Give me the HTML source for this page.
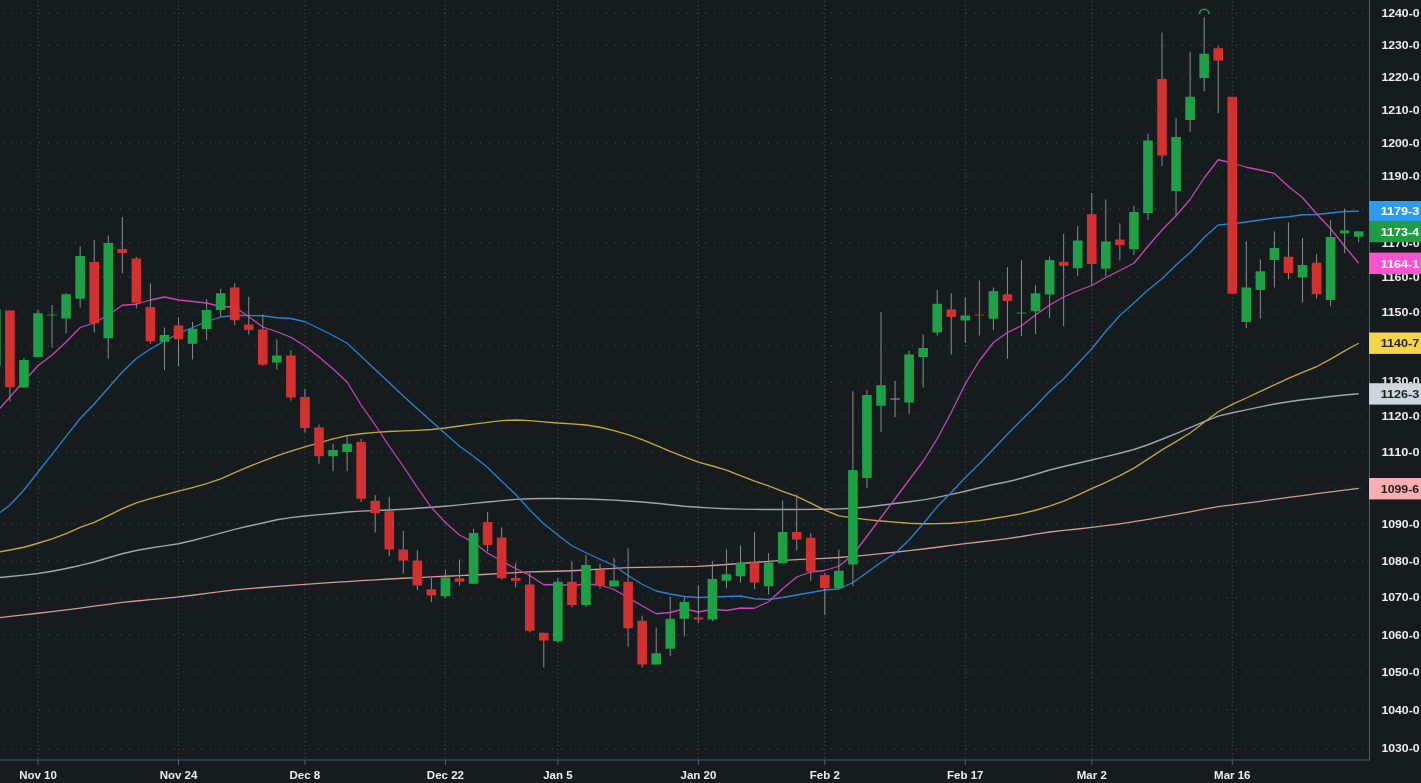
<!DOCTYPE html>
<html><head><meta charset="utf-8"><title>Chart</title>
<style>html,body{margin:0;padding:0;background:#161b1e;overflow:hidden}svg{display:block;will-change:transform}</style></head>
<body>
<svg width="1421" height="783" viewBox="0 0 1421 783">
<rect width="1421" height="783" fill="#161b1e"/>
<g stroke="#465a64" stroke-width="1" fill="none">
<line x1="3" y1="749" x2="1369" y2="749" stroke-dasharray="1 8"/>
<line x1="3" y1="710" x2="1369" y2="710" stroke-dasharray="1 8"/>
<line x1="3" y1="672" x2="1369" y2="672" stroke-dasharray="1 8"/>
<line x1="3" y1="635" x2="1369" y2="635" stroke-dasharray="1 8"/>
<line x1="3" y1="598" x2="1369" y2="598" stroke-dasharray="1 8"/>
<line x1="3" y1="561" x2="1369" y2="561" stroke-dasharray="1 8"/>
<line x1="3" y1="524" x2="1369" y2="524" stroke-dasharray="1 8"/>
<line x1="3" y1="488" x2="1369" y2="488" stroke-dasharray="1 8"/>
<line x1="3" y1="452" x2="1369" y2="452" stroke-dasharray="1 8"/>
<line x1="3" y1="416" x2="1369" y2="416" stroke-dasharray="1 8"/>
<line x1="3" y1="382" x2="1369" y2="382" stroke-dasharray="1 8"/>
<line x1="3" y1="346" x2="1369" y2="346" stroke-dasharray="1 8"/>
<line x1="3" y1="312" x2="1369" y2="312" stroke-dasharray="1 8"/>
<line x1="3" y1="277" x2="1369" y2="277" stroke-dasharray="1 8"/>
<line x1="3" y1="243" x2="1369" y2="243" stroke-dasharray="1 8"/>
<line x1="3" y1="209" x2="1369" y2="209" stroke-dasharray="1 8"/>
<line x1="3" y1="176" x2="1369" y2="176" stroke-dasharray="1 8"/>
<line x1="3" y1="143" x2="1369" y2="143" stroke-dasharray="1 8"/>
<line x1="3" y1="110" x2="1369" y2="110" stroke-dasharray="1 8"/>
<line x1="3" y1="78" x2="1369" y2="78" stroke-dasharray="1 8"/>
<line x1="3" y1="45" x2="1369" y2="45" stroke-dasharray="1 8"/>
<line x1="3" y1="13" x2="1369" y2="13" stroke-dasharray="1 8"/>
<line x1="38.00" y1="1" x2="38.00" y2="760" stroke-dasharray="1 3"/>
<line x1="178.50" y1="1" x2="178.50" y2="760" stroke-dasharray="1 3"/>
<line x1="304.95" y1="1" x2="304.95" y2="760" stroke-dasharray="1 3"/>
<line x1="445.45" y1="1" x2="445.45" y2="760" stroke-dasharray="1 3"/>
<line x1="557.85" y1="1" x2="557.85" y2="760" stroke-dasharray="1 3"/>
<line x1="698.35" y1="1" x2="698.35" y2="760" stroke-dasharray="1 3"/>
<line x1="824.80" y1="1" x2="824.80" y2="760" stroke-dasharray="1 3"/>
<line x1="965.30" y1="1" x2="965.30" y2="760" stroke-dasharray="1 3"/>
<line x1="1091.75" y1="1" x2="1091.75" y2="760" stroke-dasharray="1 3"/>
<line x1="1232.25" y1="1" x2="1232.25" y2="760" stroke-dasharray="1 3"/>
</g>
<rect x="0" y="759.5" width="1369.5" height="1" fill="#4a6372"/>
<rect x="1369" y="0" width="1" height="760.5" fill="#4a6372"/>
<rect x="37.50" y="760" width="1" height="5" fill="#4a6372"/>
<rect x="178.00" y="760" width="1" height="5" fill="#4a6372"/>
<rect x="304.45" y="760" width="1" height="5" fill="#4a6372"/>
<rect x="444.95" y="760" width="1" height="5" fill="#4a6372"/>
<rect x="557.35" y="760" width="1" height="5" fill="#4a6372"/>
<rect x="697.85" y="760" width="1" height="5" fill="#4a6372"/>
<rect x="824.30" y="760" width="1" height="5" fill="#4a6372"/>
<rect x="964.80" y="760" width="1" height="5" fill="#4a6372"/>
<rect x="1091.25" y="760" width="1" height="5" fill="#4a6372"/>
<rect x="1231.75" y="760" width="1" height="5" fill="#4a6372"/>
<path d="M-4.15,618.02 L9.90,616.36 L23.95,614.83 L38.00,613.25 L52.05,611.56 L66.10,609.82 L80.15,608.04 L94.20,606.22 L108.25,604.29 L122.30,602.47 L136.35,600.99 L150.40,599.69 L164.45,598.40 L178.50,596.97 L192.55,595.27 L206.60,593.40 L220.65,591.56 L234.70,589.95 L248.75,588.64 L262.80,587.48 L276.85,586.42 L290.90,585.44 L304.95,584.47 L319.00,583.46 L333.05,582.46 L347.10,581.54 L361.15,580.66 L375.20,579.81 L389.25,579.01 L403.30,578.25 L417.35,577.54 L431.40,576.88 L445.45,576.24 L459.50,575.62 L473.55,574.99 L487.60,574.25 L501.65,573.44 L515.70,572.64 L529.75,571.96 L543.80,571.49 L557.85,571.24 L571.90,570.73 L585.95,569.99 L600.00,569.16 L614.05,568.38 L628.10,567.69 L642.15,567.34 L656.20,567.10 L670.25,566.93 L684.30,566.71 L698.35,566.29 L712.40,565.49 L726.45,564.49 L740.50,563.49 L754.55,562.46 L768.60,561.38 L782.65,560.39 L796.70,559.62 L810.75,558.97 L824.80,558.30 L838.85,557.48 L852.90,556.40 L866.95,555.11 L881.00,553.70 L895.05,552.23 L909.10,550.67 L923.15,548.99 L937.20,547.24 L951.25,545.46 L965.30,543.71 L979.35,542.02 L993.40,540.32 L1007.45,538.53 L1021.50,536.51 L1035.55,534.13 L1049.60,531.99 L1063.65,530.39 L1077.70,528.99 L1091.75,527.47 L1105.80,525.71 L1119.85,523.79 L1133.90,521.73 L1147.95,519.44 L1162.00,516.97 L1176.05,514.45 L1190.10,511.77 L1204.15,509.05 L1218.20,506.68 L1232.25,504.88 L1246.30,503.18 L1260.35,501.30 L1274.40,499.36 L1288.45,497.44 L1302.50,495.54 L1316.55,493.68 L1330.60,491.88 L1344.65,490.11 L1358.70,488.40" fill="none" stroke="#cf9a9c" stroke-width="1.3" stroke-linejoin="round"/>
<path d="M-4.15,578.02 L9.90,576.45 L23.95,575.10 L38.00,573.50 L52.05,571.23 L66.10,568.48 L80.15,565.42 L94.20,561.95 L108.25,557.73 L122.30,553.68 L136.35,550.56 L150.40,547.93 L164.45,545.87 L178.50,543.70 L192.55,540.54 L206.60,536.91 L220.65,533.12 L234.70,529.39 L248.75,526.07 L262.80,522.93 L276.85,519.82 L290.90,517.62 L304.95,515.95 L319.00,514.65 L333.05,513.45 L347.10,512.07 L361.15,511.15 L375.20,510.59 L389.25,510.00 L403.30,509.22 L417.35,508.33 L431.40,507.33 L445.45,506.23 L459.50,504.90 L473.55,503.38 L487.60,501.99 L501.65,500.65 L515.70,499.40 L529.75,498.75 L543.80,498.57 L557.85,498.50 L571.90,498.66 L585.95,499.04 L600.00,499.51 L614.05,500.15 L628.10,501.03 L642.15,502.03 L656.20,503.28 L670.25,504.76 L684.30,506.17 L698.35,507.26 L712.40,508.15 L726.45,508.76 L740.50,509.12 L754.55,509.40 L768.60,509.50 L782.65,509.48 L796.70,509.43 L810.75,509.36 L824.80,509.25 L838.85,508.89 L852.90,508.23 L866.95,507.00 L881.00,505.22 L895.05,503.45 L909.10,501.81 L923.15,499.90 L937.20,497.37 L951.25,494.36 L965.30,491.18 L979.35,487.72 L993.40,484.49 L1007.45,481.68 L1021.50,478.29 L1035.55,474.19 L1049.60,469.97 L1063.65,466.45 L1077.70,463.22 L1091.75,459.94 L1105.80,456.64 L1119.85,453.29 L1133.90,449.46 L1147.95,444.73 L1162.00,439.30 L1176.05,433.63 L1190.10,427.62 L1204.15,421.59 L1218.20,416.12 L1232.25,412.73 L1246.30,409.88 L1260.35,406.91 L1274.40,404.08 L1288.45,401.68 L1302.50,399.84 L1316.55,398.18 L1330.60,396.47 L1344.65,394.94 L1358.70,393.75" fill="none" stroke="#a0a5a9" stroke-width="1.45" stroke-linejoin="round"/>
<path d="M-4.15,552.53 L9.90,549.98 L23.95,547.24 L38.00,543.25 L52.05,538.77 L66.10,533.71 L80.15,527.44 L94.20,522.42 L108.25,515.62 L122.30,508.62 L136.35,502.88 L150.40,498.64 L164.45,494.84 L178.50,491.18 L192.55,487.54 L206.60,483.57 L220.65,478.79 L234.70,472.63 L248.75,466.74 L262.80,461.14 L276.85,455.92 L290.90,451.12 L304.95,446.83 L319.00,442.86 L333.05,438.91 L347.10,435.64 L361.15,433.71 L375.20,432.35 L389.25,431.46 L403.30,430.86 L417.35,430.30 L431.40,429.49 L445.45,427.98 L459.50,425.97 L473.55,424.13 L487.60,422.32 L501.65,420.67 L515.70,420.00 L529.75,420.60 L543.80,421.83 L557.85,423.02 L571.90,423.88 L585.95,424.97 L600.00,427.26 L614.05,430.57 L628.10,434.71 L642.15,439.65 L656.20,445.39 L670.25,451.35 L684.30,456.94 L698.35,462.03 L712.40,466.01 L726.45,470.07 L740.50,475.65 L754.55,481.16 L768.60,485.88 L782.65,491.31 L796.70,496.33 L810.75,503.13 L824.80,510.13 L838.85,515.82 L852.90,517.95 L866.95,519.55 L881.00,521.02 L895.05,522.19 L909.10,523.26 L923.15,523.75 L937.20,523.58 L951.25,523.21 L965.30,522.17 L979.35,520.58 L993.40,518.46 L1007.45,516.14 L1021.50,513.69 L1035.55,510.23 L1049.60,506.22 L1063.65,501.03 L1077.70,495.12 L1091.75,488.64 L1105.80,482.31 L1119.85,475.70 L1133.90,468.16 L1147.95,459.14 L1162.00,449.84 L1176.05,441.66 L1190.10,433.01 L1204.15,422.20 L1218.20,411.73 L1232.25,404.45 L1246.30,397.99 L1260.35,391.32 L1274.40,384.82 L1288.45,378.40 L1302.50,372.29 L1316.55,366.75 L1330.60,359.16 L1344.65,350.88 L1358.70,343.25" fill="none" stroke="#c4a73a" stroke-width="1.35" stroke-linejoin="round"/>
<path d="M-4.15,515.60 L9.90,505.00 L23.95,490.00 L38.00,472.00 L52.05,454.30 L66.10,436.30 L80.15,418.50 L94.20,404.00 L108.25,388.00 L122.30,372.00 L136.35,358.50 L150.40,349.00 L164.45,341.00 L178.50,333.50 L192.55,327.50 L206.60,321.75 L220.65,317.00 L234.70,315.50 L248.75,315.50 L262.80,315.75 L276.85,317.75 L290.90,318.50 L304.95,321.75 L319.00,328.50 L333.05,335.50 L347.10,343.25 L361.15,356.30 L375.20,369.50 L389.25,382.80 L403.30,396.00 L417.35,408.80 L431.40,421.25 L445.45,433.75 L459.50,446.25 L473.55,456.25 L487.60,467.50 L501.65,481.25 L515.70,494.50 L529.75,510.00 L543.80,523.75 L557.85,535.00 L571.90,545.75 L585.95,552.75 L600.00,559.25 L614.05,565.50 L628.10,575.50 L642.15,584.25 L656.20,591.00 L670.25,594.00 L684.30,596.50 L698.35,597.50 L712.40,597.00 L726.45,596.50 L740.50,596.00 L754.55,598.75 L768.60,599.50 L782.65,597.50 L796.70,595.00 L810.75,592.50 L824.80,590.00 L838.85,589.00 L852.90,582.50 L866.95,572.50 L881.00,562.50 L895.05,553.25 L909.10,540.00 L923.15,523.75 L937.20,506.75 L951.25,492.50 L965.30,477.50 L979.35,463.75 L993.40,449.00 L1007.45,434.25 L1021.50,420.00 L1035.55,406.25 L1049.60,391.25 L1063.65,378.75 L1077.70,363.75 L1091.75,348.75 L1105.80,331.25 L1119.85,315.50 L1133.90,303.00 L1147.95,290.00 L1162.00,278.75 L1176.05,265.00 L1190.10,252.50 L1204.15,237.50 L1218.20,225.00 L1232.25,223.75 L1246.30,222.00 L1260.35,220.00 L1274.40,218.00 L1288.45,216.75 L1302.50,214.75 L1316.55,214.50 L1330.60,213.00 L1344.65,211.50 L1358.70,211.25" fill="none" stroke="#2c80d2" stroke-width="1.3" stroke-linejoin="round"/>
<path d="M-4.15,413.00 L9.90,397.00 L23.95,381.00 L38.00,365.75 L52.05,355.00 L66.10,342.00 L80.15,327.50 L94.20,323.00 L108.25,315.00 L122.30,305.25 L136.35,304.25 L150.40,300.00 L164.45,297.00 L178.50,300.00 L192.55,301.50 L206.60,303.00 L220.65,306.50 L234.70,307.00 L248.75,316.75 L262.80,327.00 L276.85,331.75 L290.90,337.25 L304.95,346.00 L319.00,357.00 L333.05,369.00 L347.10,382.00 L361.15,405.00 L375.20,425.00 L389.25,446.25 L403.30,466.25 L417.35,487.50 L431.40,507.50 L445.45,522.50 L459.50,535.00 L473.55,542.50 L487.60,553.00 L501.65,561.25 L515.70,568.50 L529.75,575.50 L543.80,584.75 L557.85,584.50 L571.90,585.50 L585.95,584.00 L600.00,585.00 L614.05,589.50 L628.10,597.50 L642.15,605.75 L656.20,613.75 L670.25,612.50 L684.30,608.75 L698.35,612.00 L712.40,609.25 L726.45,610.50 L740.50,608.00 L754.55,608.25 L768.60,601.75 L782.65,588.75 L796.70,577.00 L810.75,572.00 L824.80,570.50 L838.85,566.25 L852.90,555.00 L866.95,536.25 L881.00,517.50 L895.05,498.75 L909.10,480.00 L923.15,461.25 L937.20,438.75 L951.25,412.50 L965.30,383.75 L979.35,360.75 L993.40,342.50 L1007.45,332.50 L1021.50,325.75 L1035.55,315.00 L1049.60,305.00 L1063.65,297.00 L1077.70,290.75 L1091.75,285.50 L1105.80,277.50 L1119.85,270.50 L1133.90,263.25 L1147.95,246.25 L1162.00,230.00 L1176.05,215.75 L1190.10,199.50 L1204.15,178.00 L1218.20,159.75 L1232.25,163.00 L1246.30,167.25 L1260.35,170.00 L1274.40,173.50 L1288.45,186.50 L1302.50,197.50 L1316.55,213.75 L1330.60,228.75 L1344.65,246.25 L1358.70,263.25" fill="none" stroke="#c945b8" stroke-width="1.3" stroke-linejoin="round"/>
<rect x="-4.65" y="309.00" width="1" height="57.00" fill="#8a8a8a"/>
<rect x="9.40" y="310.50" width="1" height="90.75" fill="#8a8a8a"/>
<rect x="23.45" y="358.00" width="1" height="30.00" fill="#8a8a8a"/>
<rect x="37.50" y="310.00" width="1" height="47.00" fill="#8a8a8a"/>
<rect x="51.55" y="305.00" width="1" height="42.50" fill="#8a8a8a"/>
<rect x="65.60" y="293.25" width="1" height="40.00" fill="#8a8a8a"/>
<rect x="79.65" y="246.25" width="1" height="61.25" fill="#8a8a8a"/>
<rect x="93.70" y="240.00" width="1" height="92.50" fill="#8a8a8a"/>
<rect x="107.75" y="235.50" width="1" height="123.25" fill="#8a8a8a"/>
<rect x="121.80" y="217.00" width="1" height="56.25" fill="#8a8a8a"/>
<rect x="135.85" y="257.00" width="1" height="51.25" fill="#8a8a8a"/>
<rect x="149.90" y="283.25" width="1" height="60.50" fill="#8a8a8a"/>
<rect x="163.95" y="327.50" width="1" height="42.50" fill="#8a8a8a"/>
<rect x="178.00" y="317.50" width="1" height="48.75" fill="#8a8a8a"/>
<rect x="192.05" y="321.75" width="1" height="37.75" fill="#8a8a8a"/>
<rect x="206.10" y="299.25" width="1" height="40.75" fill="#8a8a8a"/>
<rect x="220.15" y="288.75" width="1" height="28.00" fill="#8a8a8a"/>
<rect x="234.20" y="283.25" width="1" height="41.75" fill="#8a8a8a"/>
<rect x="248.25" y="296.75" width="1" height="37.75" fill="#8a8a8a"/>
<rect x="262.30" y="314.50" width="1" height="51.25" fill="#8a8a8a"/>
<rect x="276.35" y="339.25" width="1" height="30.25" fill="#8a8a8a"/>
<rect x="290.40" y="350.50" width="1" height="50.25" fill="#8a8a8a"/>
<rect x="304.45" y="388.75" width="1" height="43.75" fill="#8a8a8a"/>
<rect x="318.50" y="424.50" width="1" height="39.25" fill="#8a8a8a"/>
<rect x="332.55" y="443.75" width="1" height="27.50" fill="#8a8a8a"/>
<rect x="346.60" y="434.75" width="1" height="36.50" fill="#8a8a8a"/>
<rect x="360.65" y="438.75" width="1" height="63.25" fill="#8a8a8a"/>
<rect x="374.70" y="495.00" width="1" height="37.50" fill="#8a8a8a"/>
<rect x="388.75" y="496.75" width="1" height="59.50" fill="#8a8a8a"/>
<rect x="402.80" y="531.00" width="1" height="42.75" fill="#8a8a8a"/>
<rect x="416.85" y="550.25" width="1" height="39.75" fill="#8a8a8a"/>
<rect x="430.90" y="578.00" width="1" height="24.00" fill="#8a8a8a"/>
<rect x="444.95" y="570.00" width="1" height="28.00" fill="#8a8a8a"/>
<rect x="459.00" y="559.50" width="1" height="26.00" fill="#8a8a8a"/>
<rect x="473.05" y="528.75" width="1" height="55.00" fill="#8a8a8a"/>
<rect x="487.10" y="512.00" width="1" height="39.25" fill="#8a8a8a"/>
<rect x="501.15" y="527.50" width="1" height="52.00" fill="#8a8a8a"/>
<rect x="515.20" y="562.75" width="1" height="24.75" fill="#8a8a8a"/>
<rect x="529.25" y="572.75" width="1" height="59.75" fill="#8a8a8a"/>
<rect x="543.30" y="632.75" width="1" height="34.75" fill="#8a8a8a"/>
<rect x="557.35" y="578.00" width="1" height="64.50" fill="#8a8a8a"/>
<rect x="571.40" y="561.25" width="1" height="46.25" fill="#8a8a8a"/>
<rect x="585.45" y="555.00" width="1" height="51.75" fill="#8a8a8a"/>
<rect x="599.50" y="563.75" width="1" height="25.00" fill="#8a8a8a"/>
<rect x="613.55" y="558.00" width="1" height="28.50" fill="#8a8a8a"/>
<rect x="627.60" y="548.25" width="1" height="98.50" fill="#8a8a8a"/>
<rect x="641.65" y="615.75" width="1" height="51.75" fill="#8a8a8a"/>
<rect x="655.70" y="627.50" width="1" height="37.00" fill="#8a8a8a"/>
<rect x="669.75" y="597.00" width="1" height="59.25" fill="#8a8a8a"/>
<rect x="683.80" y="596.25" width="1" height="40.25" fill="#8a8a8a"/>
<rect x="697.85" y="585.75" width="1" height="37.50" fill="#8a8a8a"/>
<rect x="711.90" y="561.25" width="1" height="60.00" fill="#8a8a8a"/>
<rect x="725.95" y="549.50" width="1" height="38.75" fill="#8a8a8a"/>
<rect x="740.00" y="545.50" width="1" height="37.00" fill="#8a8a8a"/>
<rect x="754.05" y="532.00" width="1" height="57.25" fill="#8a8a8a"/>
<rect x="768.10" y="553.00" width="1" height="41.50" fill="#8a8a8a"/>
<rect x="782.15" y="500.50" width="1" height="62.75" fill="#8a8a8a"/>
<rect x="796.20" y="494.50" width="1" height="56.00" fill="#8a8a8a"/>
<rect x="810.25" y="533.00" width="1" height="47.75" fill="#8a8a8a"/>
<rect x="824.30" y="573.00" width="1" height="42.00" fill="#8a8a8a"/>
<rect x="838.35" y="549.50" width="1" height="38.75" fill="#8a8a8a"/>
<rect x="852.40" y="391.25" width="1" height="195.00" fill="#8a8a8a"/>
<rect x="866.45" y="390.00" width="1" height="98.00" fill="#8a8a8a"/>
<rect x="880.50" y="312.00" width="1" height="119.75" fill="#8a8a8a"/>
<rect x="894.55" y="380.75" width="1" height="36.25" fill="#8a8a8a"/>
<rect x="908.60" y="350.75" width="1" height="63.50" fill="#8a8a8a"/>
<rect x="922.65" y="334.50" width="1" height="53.00" fill="#8a8a8a"/>
<rect x="936.70" y="290.10" width="1" height="45.40" fill="#8a8a8a"/>
<rect x="950.75" y="293.20" width="1" height="61.30" fill="#8a8a8a"/>
<rect x="964.80" y="297.40" width="1" height="45.60" fill="#8a8a8a"/>
<rect x="978.85" y="280.50" width="1" height="55.00" fill="#8a8a8a"/>
<rect x="992.90" y="287.30" width="1" height="42.70" fill="#8a8a8a"/>
<rect x="1006.95" y="267.10" width="1" height="91.65" fill="#8a8a8a"/>
<rect x="1021.00" y="260.10" width="1" height="76.15" fill="#8a8a8a"/>
<rect x="1035.05" y="285.00" width="1" height="49.25" fill="#8a8a8a"/>
<rect x="1049.10" y="256.70" width="1" height="61.30" fill="#8a8a8a"/>
<rect x="1063.15" y="233.80" width="1" height="92.45" fill="#8a8a8a"/>
<rect x="1077.20" y="226.00" width="1" height="50.00" fill="#8a8a8a"/>
<rect x="1091.25" y="193.00" width="1" height="92.60" fill="#8a8a8a"/>
<rect x="1105.30" y="199.25" width="1" height="76.50" fill="#8a8a8a"/>
<rect x="1119.35" y="223.25" width="1" height="37.25" fill="#8a8a8a"/>
<rect x="1133.40" y="205.75" width="1" height="49.25" fill="#8a8a8a"/>
<rect x="1147.45" y="133.75" width="1" height="86.25" fill="#8a8a8a"/>
<rect x="1161.50" y="32.50" width="1" height="133.75" fill="#8a8a8a"/>
<rect x="1175.55" y="118.20" width="1" height="98.05" fill="#8a8a8a"/>
<rect x="1189.60" y="51.75" width="1" height="80.25" fill="#8a8a8a"/>
<rect x="1203.65" y="17.00" width="1" height="74.25" fill="#8a8a8a"/>
<rect x="1217.70" y="46.00" width="1" height="67.00" fill="#8a8a8a"/>
<rect x="1231.75" y="96.75" width="1" height="197.00" fill="#8a8a8a"/>
<rect x="1245.80" y="241.25" width="1" height="87.00" fill="#8a8a8a"/>
<rect x="1259.85" y="259.25" width="1" height="59.50" fill="#8a8a8a"/>
<rect x="1273.90" y="231.25" width="1" height="56.25" fill="#8a8a8a"/>
<rect x="1287.95" y="222.50" width="1" height="56.75" fill="#8a8a8a"/>
<rect x="1302.00" y="238.00" width="1" height="64.50" fill="#8a8a8a"/>
<rect x="1316.05" y="254.25" width="1" height="44.50" fill="#8a8a8a"/>
<rect x="1330.10" y="220.00" width="1" height="86.25" fill="#8a8a8a"/>
<rect x="1344.15" y="208.75" width="1" height="44.50" fill="#8a8a8a"/>
<rect x="1358.20" y="231.30" width="1" height="11.20" fill="#8a8a8a"/>
<rect x="-8.95" y="309.00" width="9.6" height="57.00" fill="#1ea046"/>
<rect x="5.10" y="310.50" width="9.6" height="76.50" fill="#d33030"/>
<rect x="19.15" y="360.00" width="9.6" height="27.50" fill="#1ea046"/>
<rect x="33.20" y="313.20" width="9.6" height="43.80" fill="#1ea046"/>
<rect x="47.25" y="314.40" width="9.6" height="1.20" fill="#1ea046" fill-opacity="0.75"/>
<rect x="61.30" y="294.25" width="9.6" height="24.25" fill="#1ea046"/>
<rect x="75.35" y="256.00" width="9.6" height="42.75" fill="#1ea046"/>
<rect x="89.40" y="262.00" width="9.6" height="61.25" fill="#d33030"/>
<rect x="103.45" y="243.00" width="9.6" height="95.25" fill="#1ea046"/>
<rect x="117.50" y="249.10" width="9.6" height="3.80" fill="#d33030"/>
<rect x="131.55" y="258.50" width="9.6" height="44.25" fill="#d33030"/>
<rect x="145.60" y="307.00" width="9.6" height="34.25" fill="#d33030"/>
<rect x="159.65" y="335.00" width="9.6" height="6.75" fill="#1ea046"/>
<rect x="173.70" y="325.50" width="9.6" height="13.75" fill="#d33030"/>
<rect x="187.75" y="328.75" width="9.6" height="15.00" fill="#1ea046"/>
<rect x="201.80" y="310.00" width="9.6" height="19.00" fill="#1ea046"/>
<rect x="215.85" y="293.25" width="9.6" height="16.75" fill="#1ea046"/>
<rect x="229.90" y="287.50" width="9.6" height="32.75" fill="#d33030"/>
<rect x="243.95" y="324.50" width="9.6" height="5.50" fill="#d33030"/>
<rect x="258.00" y="329.50" width="9.6" height="35.25" fill="#d33030"/>
<rect x="272.05" y="355.50" width="9.6" height="7.00" fill="#1ea046"/>
<rect x="286.10" y="355.50" width="9.6" height="42.00" fill="#d33030"/>
<rect x="300.15" y="397.00" width="9.6" height="31.00" fill="#d33030"/>
<rect x="314.20" y="427.50" width="9.6" height="28.75" fill="#d33030"/>
<rect x="328.25" y="450.00" width="9.6" height="6.25" fill="#1ea046"/>
<rect x="342.30" y="443.75" width="9.6" height="8.25" fill="#1ea046"/>
<rect x="356.35" y="442.00" width="9.6" height="56.75" fill="#d33030"/>
<rect x="370.40" y="500.75" width="9.6" height="12.50" fill="#d33030"/>
<rect x="384.45" y="511.25" width="9.6" height="38.25" fill="#d33030"/>
<rect x="398.50" y="549.50" width="9.6" height="11.00" fill="#d33030"/>
<rect x="412.55" y="560.50" width="9.6" height="25.00" fill="#d33030"/>
<rect x="426.60" y="589.25" width="9.6" height="6.25" fill="#d33030"/>
<rect x="440.65" y="577.50" width="9.6" height="18.75" fill="#1ea046"/>
<rect x="454.70" y="578.25" width="9.6" height="3.50" fill="#d33030"/>
<rect x="468.75" y="533.00" width="9.6" height="50.75" fill="#1ea046"/>
<rect x="482.80" y="522.00" width="9.6" height="23.00" fill="#d33030"/>
<rect x="496.85" y="537.50" width="9.6" height="40.75" fill="#d33030"/>
<rect x="510.90" y="578.00" width="9.6" height="2.75" fill="#d33030"/>
<rect x="524.95" y="584.50" width="9.6" height="46.25" fill="#d33030"/>
<rect x="539.00" y="632.75" width="9.6" height="7.75" fill="#d33030"/>
<rect x="553.05" y="581.75" width="9.6" height="59.50" fill="#1ea046"/>
<rect x="567.10" y="581.75" width="9.6" height="23.25" fill="#d33030"/>
<rect x="581.15" y="565.00" width="9.6" height="40.00" fill="#1ea046"/>
<rect x="595.20" y="570.00" width="9.6" height="15.50" fill="#d33030"/>
<rect x="609.25" y="580.50" width="9.6" height="6.00" fill="#1ea046"/>
<rect x="623.30" y="581.75" width="9.6" height="46.50" fill="#d33030"/>
<rect x="637.35" y="620.75" width="9.6" height="43.75" fill="#d33030"/>
<rect x="651.40" y="653.25" width="9.6" height="11.25" fill="#1ea046"/>
<rect x="665.45" y="618.75" width="9.6" height="30.00" fill="#1ea046"/>
<rect x="679.50" y="602.00" width="9.6" height="16.75" fill="#1ea046"/>
<rect x="693.55" y="617.50" width="9.6" height="2.00" fill="#d33030"/>
<rect x="707.60" y="579.00" width="9.6" height="40.50" fill="#1ea046"/>
<rect x="721.65" y="574.25" width="9.6" height="6.50" fill="#1ea046"/>
<rect x="735.70" y="562.50" width="9.6" height="13.75" fill="#1ea046"/>
<rect x="749.75" y="562.50" width="9.6" height="20.00" fill="#d33030"/>
<rect x="763.80" y="562.50" width="9.6" height="23.75" fill="#1ea046"/>
<rect x="777.85" y="532.00" width="9.6" height="31.25" fill="#1ea046"/>
<rect x="791.90" y="532.00" width="9.6" height="7.50" fill="#d33030"/>
<rect x="805.95" y="537.75" width="9.6" height="34.00" fill="#d33030"/>
<rect x="820.00" y="575.00" width="9.6" height="13.25" fill="#d33030"/>
<rect x="834.05" y="570.75" width="9.6" height="17.50" fill="#1ea046"/>
<rect x="848.10" y="470.00" width="9.6" height="94.50" fill="#1ea046"/>
<rect x="862.15" y="395.00" width="9.6" height="83.00" fill="#1ea046"/>
<rect x="876.20" y="385.25" width="9.6" height="20.50" fill="#1ea046"/>
<rect x="890.25" y="398.40" width="9.6" height="1.20" fill="#8a8a8a"/>
<rect x="904.30" y="354.50" width="9.6" height="48.00" fill="#1ea046"/>
<rect x="918.35" y="348.00" width="9.6" height="9.00" fill="#1ea046"/>
<rect x="932.40" y="303.75" width="9.6" height="28.75" fill="#1ea046"/>
<rect x="946.45" y="309.50" width="9.6" height="7.50" fill="#d33030"/>
<rect x="960.50" y="315.50" width="9.6" height="5.00" fill="#1ea046"/>
<rect x="974.55" y="314.30" width="9.6" height="1.20" fill="#d33030" fill-opacity="0.75"/>
<rect x="988.60" y="291.10" width="9.6" height="27.65" fill="#1ea046"/>
<rect x="1002.65" y="294.30" width="9.6" height="6.70" fill="#d33030"/>
<rect x="1016.70" y="312.50" width="9.6" height="1.20" fill="#1ea046" fill-opacity="0.75"/>
<rect x="1030.75" y="293.30" width="9.6" height="17.95" fill="#1ea046"/>
<rect x="1044.80" y="260.10" width="9.6" height="34.40" fill="#1ea046"/>
<rect x="1058.85" y="261.80" width="9.6" height="4.00" fill="#d33030"/>
<rect x="1072.90" y="240.50" width="9.6" height="27.70" fill="#1ea046"/>
<rect x="1086.95" y="214.20" width="9.6" height="49.80" fill="#d33030"/>
<rect x="1101.00" y="241.50" width="9.6" height="27.25" fill="#1ea046"/>
<rect x="1115.05" y="239.50" width="9.6" height="5.50" fill="#d33030"/>
<rect x="1129.10" y="212.00" width="9.6" height="37.25" fill="#1ea046"/>
<rect x="1143.15" y="140.50" width="9.6" height="72.50" fill="#1ea046"/>
<rect x="1157.20" y="79.00" width="9.6" height="76.50" fill="#d33030"/>
<rect x="1171.25" y="137.00" width="9.6" height="54.00" fill="#1ea046"/>
<rect x="1185.30" y="96.75" width="9.6" height="23.25" fill="#1ea046"/>
<rect x="1199.35" y="53.75" width="9.6" height="24.25" fill="#1ea046"/>
<rect x="1213.40" y="48.25" width="9.6" height="12.50" fill="#d33030"/>
<rect x="1227.45" y="96.75" width="9.6" height="197.00" fill="#d33030"/>
<rect x="1241.50" y="287.50" width="9.6" height="34.50" fill="#1ea046"/>
<rect x="1255.55" y="271.25" width="9.6" height="18.75" fill="#1ea046"/>
<rect x="1269.60" y="248.00" width="9.6" height="12.00" fill="#1ea046"/>
<rect x="1283.65" y="256.75" width="9.6" height="16.25" fill="#d33030"/>
<rect x="1297.70" y="265.00" width="9.6" height="12.50" fill="#1ea046"/>
<rect x="1311.75" y="262.75" width="9.6" height="31.50" fill="#d33030"/>
<rect x="1325.80" y="237.00" width="9.6" height="63.00" fill="#1ea046"/>
<rect x="1339.85" y="230.40" width="9.6" height="3.00" fill="#1ea046"/>
<rect x="1353.90" y="231.30" width="9.6" height="5.50" fill="#1ea046"/>
<path d="M1199.35,14 A4.8,4.8 0 0 1 1208.95,14" fill="none" stroke="#1ea046" stroke-width="1.4"/>
<g font-family="Liberation Sans, sans-serif" font-size="11" fill="#ececec" font-weight="bold">
<text x="1381.4" y="752.4" textLength="38.2" lengthAdjust="spacingAndGlyphs">1030-0</text>
<text x="1381.4" y="714.1" textLength="38.2" lengthAdjust="spacingAndGlyphs">1040-0</text>
<text x="1381.4" y="676.2" textLength="38.2" lengthAdjust="spacingAndGlyphs">1050-0</text>
<text x="1381.4" y="638.6" textLength="38.2" lengthAdjust="spacingAndGlyphs">1060-0</text>
<text x="1381.4" y="601.4" textLength="38.2" lengthAdjust="spacingAndGlyphs">1070-0</text>
<text x="1381.4" y="564.6" textLength="38.2" lengthAdjust="spacingAndGlyphs">1080-0</text>
<text x="1381.4" y="528.0" textLength="38.2" lengthAdjust="spacingAndGlyphs">1090-0</text>
<text x="1381.4" y="491.8" textLength="38.2" lengthAdjust="spacingAndGlyphs">1100-0</text>
<text x="1381.4" y="456.0" textLength="38.2" lengthAdjust="spacingAndGlyphs">1110-0</text>
<text x="1381.4" y="420.4" textLength="38.2" lengthAdjust="spacingAndGlyphs">1120-0</text>
<text x="1381.4" y="385.2" textLength="38.2" lengthAdjust="spacingAndGlyphs">1130-0</text>
<text x="1381.4" y="350.3" textLength="38.2" lengthAdjust="spacingAndGlyphs">1140-0</text>
<text x="1381.4" y="315.6" textLength="38.2" lengthAdjust="spacingAndGlyphs">1150-0</text>
<text x="1381.4" y="281.3" textLength="38.2" lengthAdjust="spacingAndGlyphs">1160-0</text>
<text x="1381.4" y="247.3" textLength="38.2" lengthAdjust="spacingAndGlyphs">1170-0</text>
<text x="1381.4" y="213.6" textLength="38.2" lengthAdjust="spacingAndGlyphs">1180-0</text>
<text x="1381.4" y="180.1" textLength="38.2" lengthAdjust="spacingAndGlyphs">1190-0</text>
<text x="1381.4" y="147.0" textLength="38.2" lengthAdjust="spacingAndGlyphs">1200-0</text>
<text x="1381.4" y="114.1" textLength="38.2" lengthAdjust="spacingAndGlyphs">1210-0</text>
<text x="1381.4" y="81.4" textLength="38.2" lengthAdjust="spacingAndGlyphs">1220-0</text>
<text x="1381.4" y="49.1" textLength="38.2" lengthAdjust="spacingAndGlyphs">1230-0</text>
<text x="1381.4" y="17.0" textLength="38.2" lengthAdjust="spacingAndGlyphs">1240-0</text>
</g>
<g font-family="Liberation Sans, sans-serif" font-size="11.5" font-weight="bold">
<rect x="1369" y="201.0" width="52" height="21.4" fill="#2b9bf4"/>
<text x="1380.8" y="215.4" fill="#ffffff" textLength="38.4" lengthAdjust="spacingAndGlyphs">1179-3</text>
<rect x="1369" y="220.8" width="52" height="21.4" fill="#1f9d42"/>
<text x="1380.8" y="235.8" fill="#ffffff" textLength="38.4" lengthAdjust="spacingAndGlyphs">1173-4</text>
<rect x="1369" y="252.6" width="52" height="21.4" fill="#ff52d0"/>
<text x="1380.8" y="267.5" fill="#ffffff" textLength="38.4" lengthAdjust="spacingAndGlyphs">1164-1</text>
<rect x="1369" y="332.5" width="52" height="21.4" fill="#f5d548"/>
<text x="1380.8" y="346.8" fill="#2a2410" textLength="38.4" lengthAdjust="spacingAndGlyphs">1140-7</text>
<rect x="1369" y="383.2" width="52" height="21.4" fill="#ced5dc"/>
<text x="1380.8" y="397.8" fill="#1c1c1c" textLength="38.4" lengthAdjust="spacingAndGlyphs">1126-3</text>
<rect x="1369" y="478.0" width="52" height="21.4" fill="#fbaeb1"/>
<text x="1380.8" y="492.8" fill="#1c1c1c" textLength="38.4" lengthAdjust="spacingAndGlyphs">1099-6</text>
</g>
<g font-family="Liberation Sans, sans-serif" font-size="11.5" fill="#ececec" font-weight="bold" text-anchor="middle">
<text x="38.0" y="779">Nov 10</text>
<text x="178.5" y="779">Nov 24</text>
<text x="304.9" y="779">Dec 8</text>
<text x="445.4" y="779">Dec 22</text>
<text x="557.9" y="779">Jan 5</text>
<text x="698.4" y="779">Jan 20</text>
<text x="824.8" y="779">Feb 2</text>
<text x="965.3" y="779">Feb 17</text>
<text x="1091.8" y="779">Mar 2</text>
<text x="1232.3" y="779">Mar 16</text>
</g>
</svg>
</body></html>
